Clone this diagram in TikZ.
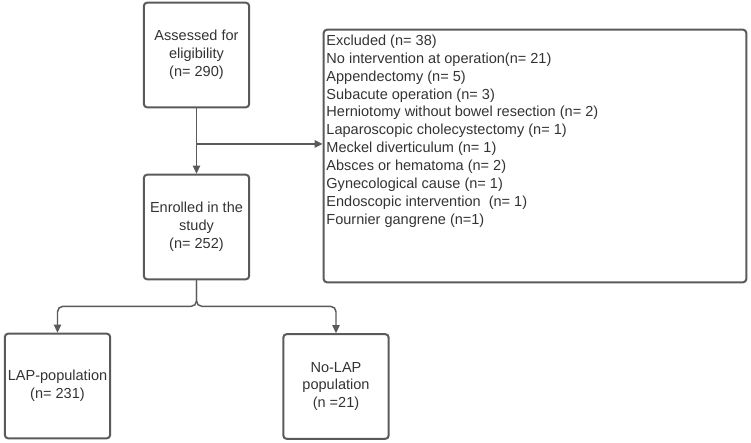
\documentclass[tikz,border=0pt]{standalone}
\usepackage{fontspec}
\setmainfont{Liberation Sans}
\usetikzlibrary{arrows.meta,calc}

\definecolor{linegray}{HTML}{5A5A5A}
\definecolor{textgray}{HTML}{333333}

\begin{document}
\begin{tikzpicture}[
    x=0.75pt,y=-0.75pt,
    font=\fontsize{10.9}{13.4}\selectfont,
    box/.style={rectangle,draw=linegray,line width=1.5pt,rounded corners=2.5pt,minimum width=79pt,minimum height=78.5pt,align=center,text=textgray,inner sep=1pt},
    listbox/.style={rectangle,draw=linegray,line width=1.5pt,rounded corners=2.5pt,minimum width=317pt,minimum height=189.5pt},
    arrow/.style={draw=linegray,line width=1.1pt,-{Triangle[length=6pt,width=5.5pt]}}
]

\useasboundingbox (0,0) rectangle (751,443);

% Screening
\node[box] (assess) at (196.5,55) {Assessed for\\eligibility\\(n= 290)};
\node[box] (enrol) at (196.5,227) {Enrolled in the\\study\\(n= 252)};

% Exclusions
\node[listbox] (excl) at (535,156) {};
\node[anchor=north west,align=left,inner sep=0pt,text=textgray] (exclList) at ($(excl.north west)+(3.5,6)$) {%
    Excluded (n= 38)\\
    No intervention at operation(n= 21)\\
    Appendectomy (n= 5)\\
    Subacute operation (n= 3)\\
    Herniotomy without bowel resection (n= 2)\\
    Laparoscopic cholecystectomy (n= 1)\\
    Meckel diverticulum (n= 1)\\
    Absces or hematoma (n= 2)\\
    Gynecological cause (n= 1)\\
    Endoscopic intervention~ (n= 1)\\
    Fournier gangrene (n=1)};

% Populations
\node[box] (lap) at (57.5,386) {LAP-population\\(n= 231)};
\node[box] (nolap) at (336,386.5) {No-LAP\\population\\(n =21)};

% Connect screening to enrolment and exclusions
\coordinate (split) at ($(assess.south)!0.545!(enrol.north)$);
\draw[arrow] (assess) -- (enrol);
\draw[arrow] (split) -- (split -| excl.west);

% Connect enrolment to both populations
\coordinate (fork) at ($(enrol.south)+(0,26)$);
\foreach \p in {lap,nolap} {
    \draw[arrow,rounded corners=4pt] (enrol.south) -- (fork) -| (\p.north);
}

\end{tikzpicture}
\end{document}
